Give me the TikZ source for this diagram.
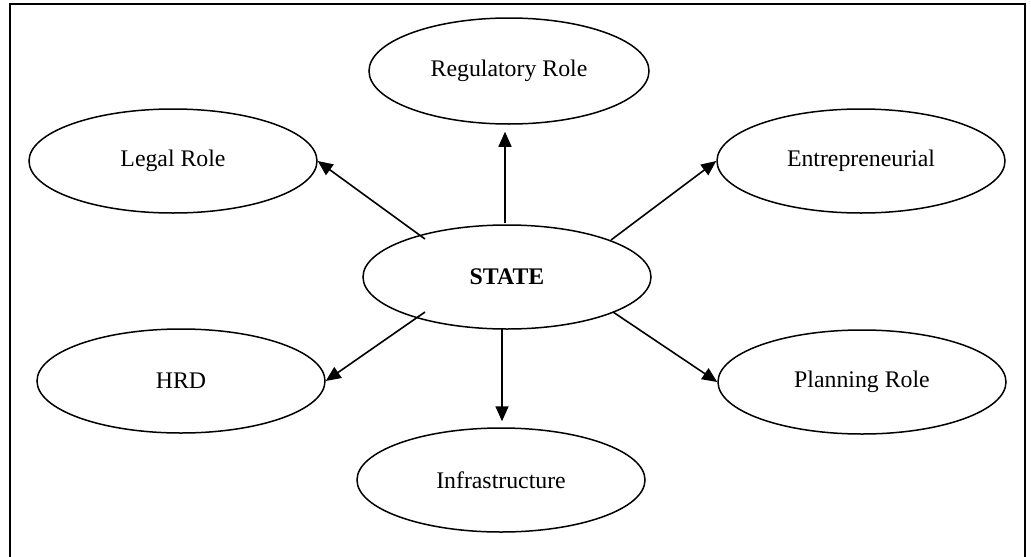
\documentclass[tikz,border=0pt]{standalone}
\usepackage{fontspec}
\setmainfont{Liberation Serif}
\usetikzlibrary{arrows.meta,shapes.geometric,calc}
\begin{document}
\begin{tikzpicture}[x=1pt,y=-1pt,
  role/.style={draw, line width=1.5pt, ellipse, inner sep=0pt,
    minimum width=288pt, minimum height=104pt,
    font=\fontsize{23.8pt}{28pt}\selectfont},
  arr/.style={line width=1.6pt, -{Triangle[length=15pt,width=13pt]}}]
  \useasboundingbox (0,0) rectangle (1031,557);
  % outer frame (bottom edge runs past the page)
  \draw[line width=1.6pt] (10,565) -- (10,4) -- (1025,4) -- (1025,565);

  \node[role] (state) at (507,277) {\textbf{STATE}};
  \node[role, minimum width=280pt, minimum height=106pt] (reg) at (509,71) {Regulatory Role};
  \node[role] (legal) at (173,161) {Legal Role};
  \node[role] (entre) at (861,161) {Entrepreneurial};
  \node[role] (hrd) at (181,381) {HRD};
  \node[role] (plan) at (862,382) {Planning Role};
  \node[role] (infra) at (501,480) {Infrastructure};

  % tails of the connectors on the central ellipse
  \coordinate (tReg) at (505,223);
  \coordinate (tLegal) at (425,239);
  \coordinate (tEntre) at (611,240);
  \coordinate (tHrd) at (425,312);
  \coordinate (tPlan) at (613,312);
  \coordinate (tInfra) at (502,329);

  \draw[arr] (tReg) -- ($(tReg |- reg.south)+(0,7)$);
  \draw[arr] (tLegal) -- (legal.east);
  \draw[arr] (tEntre) -- (entre.west);
  \draw[arr] (tHrd) -- (hrd.east);
  \draw[arr] (tPlan) -- (plan.west);
  \draw[arr] (tInfra) -- ($(tInfra |- infra.north)+(0,-6)$);
\end{tikzpicture}
\end{document}
